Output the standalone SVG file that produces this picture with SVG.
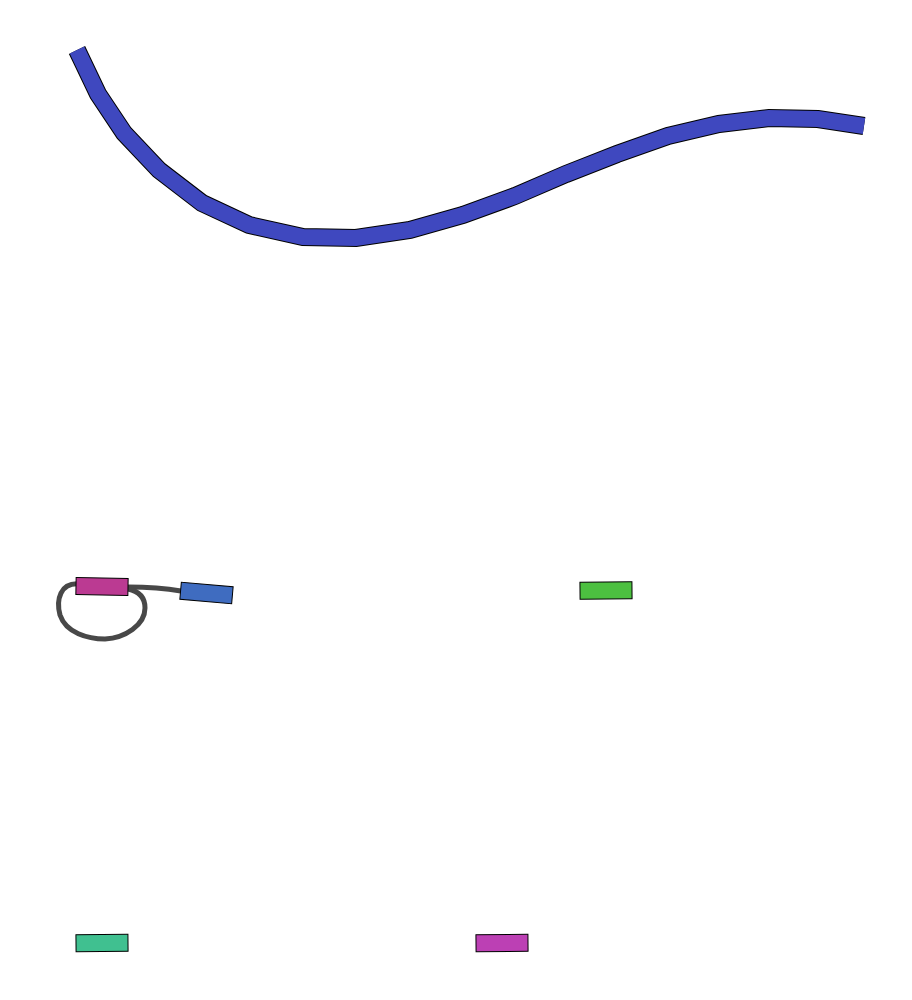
<svg xmlns="http://www.w3.org/2000/svg" width="912" height="1000" viewBox="0 0 912 1000">
<style>
.node{stroke:#000;stroke-width:1}
.edge{fill:none;stroke:#484848;stroke-width:5}
.band-o{fill:none;stroke:#000;stroke-width:18;stroke-linejoin:miter}
.band-i{fill:none;stroke:#3F48BF;stroke-width:16;stroke-linejoin:miter}
</style>
<rect width="912" height="1000" fill="#fff"/>
<g id="band">
<path class="band-o" d="M77,50 L98,94 L124,133 L159,170 L202,203 L249,225 L303,237 L356,238 L410,230 L463,215 L515,196 L566,174 L617,154 L668,136 L719,124 L769,118 L818,119 L864,126"/>
<path class="band-i" d="M77,50 L98,94 L124,133 L159,170 L202,203 L249,225 L303,237 L356,238 L410,230 L463,215 L515,196 L566,174 L617,154 L668,136 L719,124 L769,118 L818,119 L864,126"/>
</g>
<g id="connectors">
<path class="edge" d="M128,587 Q158,587 181,591"/>
<path class="edge" d="M80,584 C60,582 56,600 60,615 C66,633 88,639 105,639 C125,638 145,625 145,608 C145,596 138,591 128,589"/>
</g>
<g id="n1"><rect class="node" x="76" y="578" width="52" height="17" fill="#BB3A92" transform="rotate(1 102 586.5)"/></g>
<g id="n2"><rect class="node" x="180.5" y="584.5" width="52" height="17" fill="#3F6CC0" transform="rotate(5 206.5 593)"/></g>
<g id="n3"><rect class="node" x="580" y="582" width="52" height="17" fill="#4CC040" transform="rotate(-0.5 606 590.5)"/></g>
<g id="n4"><rect class="node" x="76" y="934.5" width="52" height="17" fill="#40C090" transform="rotate(-0.5 102 943)"/></g>
<g id="n5"><rect class="node" x="476" y="934.5" width="52" height="17" fill="#BC40B4" transform="rotate(-0.5 502 943)"/></g>
</svg>
